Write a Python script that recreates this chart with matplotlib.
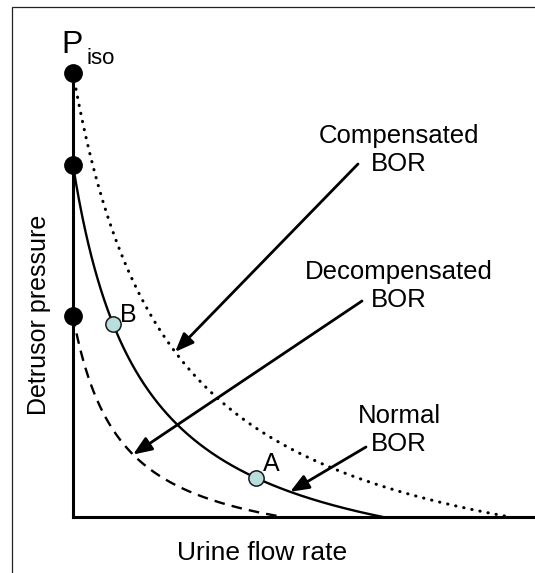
import numpy as np
import matplotlib.pyplot as plt
from matplotlib.patches import Rectangle

plt.rcParams['font.family'] = ['Liberation Sans', 'DejaVu Sans']

# BOR curves: isovolumetric pressure (flow = 0) and max flow (pressure = 0)
curve_names = ["Compensated", "Normal", "Decompensated"]
p_iso = [87.1, 69.0, 39.4]
q_max = [94.6, 67.1, 45.5]
curvature = 0.22
curve_styles = [(0, (0.1, 2.6)), "-", (0, (4.5, 3.0))]

# operating points on the normal curve (flow values)
point_labels = ["A", "B"]
point_flow = [39.6, 8.7]

# where each arrow touches its curve (flow values) and label text
arrow_flow = [22.1, 47.0, 13.0]
label_text = ["Compensated\nBOR", "Normal\nBOR", "Decompensated\nBOR"]


def bor(q, p0, q0, k=curvature):
    # hyperbolic pressure-flow relation (p + k)(q + k) = k(1 + k), normalised
    qn = np.asarray(q) / q0
    return p0 * (k * (1 + k) / (qn + k) - k)


def px(x, y):
    # pixel position in the picture -> data coords
    return ((x - 73) / 462 * 100, (517 - y) / 510 * 100)


fig = plt.figure(figsize=(5.35, 5.73), dpi=100)
fig.patches.append(Rectangle((12 / 535, -0.1), 1.2, 1 - 7 / 573 + 0.1,
                             transform=fig.transFigure, fill=False,
                             edgecolor='#222222', lw=0.9))

ax = fig.add_axes([73 / 535, 56 / 573, 462 / 535, 510 / 573])
ax.set_xlim(0, 100)
ax.set_ylim(0, 100)
ax.set_xticks([])
ax.set_yticks([])
for s in ['top', 'right']:
    ax.spines[s].set_visible(False)
ax.spines['left'].set_linewidth(2.2)
ax.spines['bottom'].set_linewidth(2.2)
ax.spines['left'].set_bounds(0, p_iso[0])
ax.patch.set_alpha(0)

for p0, q0, ls in zip(p_iso, q_max, curve_styles):
    q = np.linspace(0, q0, 400)
    if ls == "-":
        ax.plot(q, bor(q, p0, q0), color='k', lw=1.7, ls=ls, clip_on=False, zorder=3)
    elif ls == curve_styles[0]:
        ax.plot(q, bor(q, p0, q0), color='k', lw=2.2, ls=ls, dash_capstyle='round',
                clip_on=False, zorder=3)
    else:
        ax.plot(q, bor(q, p0, q0), color='k', lw=1.7, ls=ls, clip_on=False, zorder=3)
    ax.plot(0, p0, 'o', ms=12.5, color='k', clip_on=False, zorder=5)

# points A and B on the normal curve
for lab, f in zip(point_labels, point_flow):
    y = bor(f, p_iso[1], q_max[1])
    ax.plot(f, y, 'o', ms=11, mfc='#b8dede', mec='#1a1a1a', mew=1.1, zorder=6)
ax.text(*px(263, 471), "A", fontsize=18, ha='left', va='baseline')
ax.text(*px(120, 322), "B", fontsize=18, ha='left', va='baseline')

# arrows and labels
arrow_tails = [px(358, 164), px(366, 447), px(362, 301)]
label_pos = [px(399, 150), px(399, 430), px(399, 286)]
for i in range(3):
    tip_y = bor(arrow_flow[i], p_iso[i], q_max[i])
    ax.annotate("", xy=(arrow_flow[i], tip_y), xytext=arrow_tails[i],
                arrowprops=dict(arrowstyle='-|>,head_length=0.75,head_width=0.3',
                                mutation_scale=15, lw=2.0, color='k',
                                shrinkA=0, shrinkB=0), zorder=4)
    ax.text(*label_pos[i], label_text[i], fontsize=18.5, ha='center', va='center',
            multialignment='center', linespacing=1.2)

# P_iso label
ax.text(*px(61, 53), "P", fontsize=23, ha='left', va='baseline')
ax.text(*px(86, 64), "iso", fontsize=16, ha='left', va='baseline')

fig.text(262.5 / 535, 1 - 560 / 573, "Urine flow rate", fontsize=19,
         ha='center', va='baseline')
fig.text(39 / 535, 1 - 314.5 / 573, "Detrusor pressure", fontsize=18,
         ha='center', va='center', rotation=90)

fig.savefig("out.png", dpi=100)
